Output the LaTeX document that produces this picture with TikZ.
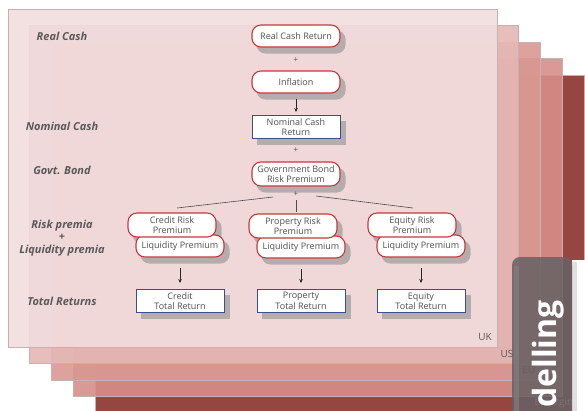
\documentclass[tikz,border=0pt]{standalone}
\usepackage{fontspec}
\setmainfont{Open Sans}
\usetikzlibrary{arrows.meta}
\pgfdeclarelayer{sheets}
\pgfdeclarelayer{shadowl}
\pgfsetlayers{sheets,shadowl,main}
\definecolor{boxred}{HTML}{C8383A}
\definecolor{boxblue}{HTML}{3A4E8C}
\definecolor{txt}{HTML}{505050}
\definecolor{labgray}{HTML}{5A5A5A}
\definecolor{shd}{HTML}{ABA6A6}
\definecolor{sheetA}{RGB}{242,221,222}
\definecolor{sheetB}{RGB}{229,183,182}
\definecolor{sheetC}{RGB}{217,152,146}
\definecolor{sheetD}{RGB}{215,142,137}
\definecolor{sheetE}{RGB}{149,70,64}
\definecolor{tabgray}{HTML}{676163}
\definecolor{tablight}{HTML}{858082}
\definecolor{sheetedge}{HTML}{C4B2B2}
\tikzset{
 rbox/.style={draw=boxred, line width=1.1pt, fill=white, rounded corners=9pt,
   minimum width=88pt, minimum height=22pt, inner sep=1pt, align=center,
   font=\fontsize{9}{10.5}\selectfont, text=txt},
 bbox/.style={draw=boxblue, line width=1pt, fill=white,
   minimum width=88pt, minimum height=23pt, inner sep=1pt, align=center,
   font=\fontsize{9}{10.5}\selectfont, text=txt},
 plus/.style={font=\fontsize{8}{9}\selectfont, text=txt, inner sep=1pt},
 lab/.style={font=\fontsize{11}{12.5}\selectfont\bfseries\itshape, text=labgray,
   align=center, inner sep=0pt},
 sheetlab/.style={font=\fontsize{10}{12}\selectfont, text=labgray, anchor=east, inner sep=0pt},
 arr/.style={-{Stealth[length=4pt,width=3.5pt]}, line width=0.7pt, draw=black!85},
 ln/.style={line width=0.6pt, draw=black!70},
 sheet/.style={draw=sheetedge, line width=0.6pt, fill opacity=0.9},
 shadowfill/.style={fill=shd, opacity=0.85},
}
\begin{document}
\begin{tikzpicture}[x=1pt, y=-1pt]
\useasboundingbox (0,0) rectangle (585,410);
\clip (0,0) rectangle (585,410);
\begin{pgfonlayer}{sheets}
% sheet 5
\begin{scope}[shift={(87,66)}]
 \filldraw[sheet, fill=sheetE, fill opacity=1] (8,9) rectangle (497,347);
 \node[sheetlab, text=white!80!gray] (emlab) at (492,337) {Emerging};
\end{scope}
% sheet 4
\begin{scope}[shift={(65,49.5)}]
 \filldraw[sheet, fill=sheetD] (8,9) rectangle (497,347);
\end{scope}
% sheet 3
\begin{scope}[shift={(43.5,33)}]
 \filldraw[sheet, fill=sheetC] (8,9) rectangle (497,347);
 \node[sheetlab] (eulab) at (492,337) {EU};
\end{scope}
% sheet 2
\begin{scope}[shift={(21.5,16.5)}]
 \filldraw[sheet, fill=sheetB] (8,9) rectangle (497,347);
 \node[sheetlab] (uslab) at (492,337) {US};
\end{scope}
% sheet 1
\filldraw[sheet, fill=sheetA] (8,9) rectangle (497,347);
\end{pgfonlayer}
\node[lab] (l1) at (62,36) {Real Cash};
\node[lab] (l2) at (62,126) {Nominal Cash};
\node[lab] (l3) at (62,170) {Govt. Bond};
\node[lab] (l4) at (62,238) {Risk premia\\+\\Liquidity premia};
\node[lab] (l5) at (62,301) {Total Returns};
\node[rbox] (rc) at (296,36) {Real Cash Return};
\node[plus] (p1) at (296,60) {+};
\node[rbox] (inf) at (296,82) {Inflation};
\node[bbox] (nc) at (296,127) {Nominal Cash\\Return};
\draw[arr, shorten <=5pt, shorten >=3pt] (inf) -- (nc);
\node[plus] (p2) at (296,150) {+};
\node[rbox, minimum height=24pt] (gb) at (296,174) {Government Bond\\Risk Premium};
\node[plus] (p3) at (296,194) {+};
\coordinate (s1) at (273,197);
\coordinate (s2) at (296,200);
\coordinate (s3) at (316,196);
\coordinate (e1) at (177,208);
\coordinate (e2) at (296,212);
\coordinate (e3) at (413,208);
\draw[ln] (s1) -- (e1);
\draw[ln] (s2) -- (e2);
\draw[ln] (s3) -- (e3);
\node[rbox] (lq1) at (180,246) {Liquidity Premium};
\node[rbox, minimum height=24pt] (cr) at (172,225) {Credit Risk\\Premium};
\node[rbox] (lq2) at (301,247) {Liquidity Premium};
\node[rbox, minimum height=24pt] (pr) at (293,226) {Property Risk\\Premium};
\node[rbox] (lq3) at (421,246) {Liquidity Premium};
\node[rbox, minimum height=24pt] (eq) at (412,225) {Equity Risk\\Premium};
\node[bbox] (ct) at (180,301) {Credit\\Total Return};
\node[bbox] (pt) at (301,301) {Property\\Total Return};
\node[bbox] (et) at (421,301) {Equity\\Total Return};
\draw[arr, shorten <=10pt, shorten >=6pt] (lq1) -- (ct);
\draw[arr, shorten <=10pt, shorten >=6pt] (lq2) -- (pt);
\draw[arr, shorten <=10pt, shorten >=6pt] (lq3) -- (et);
\node[sheetlab] (uklab) at (492,337) {UK};
% shadows of the boxes, below all boxes
\begin{pgfonlayer}{shadowl}
\foreach \n in {rc,inf,gb,lq1,cr,lq2,pr,lq3,eq}
  \fill[shadowfill, rounded corners=9pt]
    ([shift={(5pt,-6pt)}]\n.south west) rectangle ([shift={(5pt,-6pt)}]\n.north east);
\foreach \n in {nc,ct,pt,et}
  \fill[shadowfill]
    ([shift={(5pt,-6pt)}]\n.south west) rectangle ([shift={(5pt,-6pt)}]\n.north east);
\end{pgfonlayer}
% white panel and tab
\fill[white] (572,260) rectangle (590,415);
\fill[black, opacity=0.12] (572,262) rectangle (577,415);
\fill[tabgray, opacity=0.86, rounded corners=8pt] (512,257) rectangle (572,430);
\fill[tablight, opacity=0.6] (514,266) rectangle (519,415);
\node[rotate=90, anchor=base west, inner sep=0pt, text=white,
  font=\fontsize{32}{32}\selectfont\bfseries] (tab) at (556,408) {delling};
\end{tikzpicture}
\end{document}
